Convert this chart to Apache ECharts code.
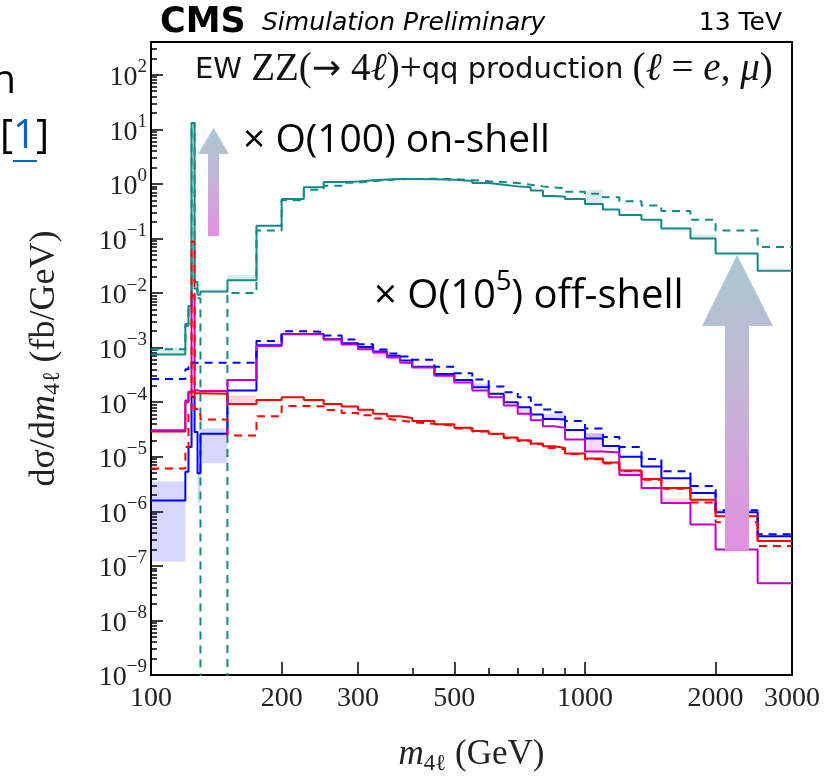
<!DOCTYPE html>
<html>
<head>
<meta charset="utf-8">
<script src="https://cdn.jsdelivr.net/npm/echarts@6/dist/echarts.min.js"></script>
<style>
  html, body { margin: 0; padding: 0; background: #fff; }
  #chart { width: 839px; height: 780px; }
</style>
</head>
<body>
<div id="chart"></div>
<script>
// bin edges of the m4l histograms (GeV)
const edges = [100, 120, 122, 124, 126, 128, 130, 150, 175, 200, 225, 250, 275, 300, 325, 350, 375, 400,
  450, 500, 550, 600, 650, 700, 750, 800, 850, 900, 1000, 1100, 1200, 1350, 1500, 1750, 2000, 2500, 3000];

// dsigma/dm4l per bin (fb/GeV); 1e-12 = empty bin (off scale)
const tealSolid = [7.5e-4, 2.7e-3, 5.8e-3, 13, 0.016, 0.0093, 0.0107, 0.0172, 0.17, 0.53, 0.87, 1.08, 1.11, 1.16,
  1.2, 1.23, 1.23, 1.21, 1.19, 1.135, 1.04, 0.96, 0.9, 0.87, 0.755, 0.6, 0.58, 0.53, 0.43, 0.34, 0.27, 0.22,
  0.152, 0.1, 0.053, 0.0255];
const tealDashed = [9.3e-4, 2.5e-3, 6e-3, 13, 0.012, 0.008, 1e-12, 0.01, 0.14, 0.5, 0.78, 0.92, 1.05, 1.12,
  1.18, 1.22, 1.23, 1.24, 1.22, 1.17, 1.12, 1.08, 1.04, 0.96, 0.9, 0.86, 0.83, 0.72, 0.66, 0.57, 0.48, 0.4,
  0.32, 0.22, 0.14, 0.07];
const blueSolid = [1.58e-6, 5.3e-6, 1.5e-5, 1.26e-4, 2.85e-5, 5.0e-6, 2.65e-5, 1.63e-4, 1.1e-3, 1.78e-3, 1.78e-3,
  1.42e-3, 1.2e-3, 1.02e-3, 8.5e-4, 7.06e-4, 5.8e-4, 4.47e-4, 3.28e-4, 2.55e-4, 1.87e-4, 1.42e-4, 1.0e-4,
  8.1e-5, 5.97e-5, 4.9e-5, 4.8e-5, 3.1e-5, 2.16e-5, 1.58e-5, 1.0e-5, 6.6e-6, 4.04e-6, 2.16e-6, 9.6e-7, 3.5e-7];
const blueDashed = [2.65e-4, 4.0e-4, 4.4e-4, 5.3e-4, 5.3e-4, 5.3e-4, 5.3e-4, 5.3e-4, 1.32e-3, 2.0e-3, 1.95e-3,
  1.67e-3, 1.41e-3, 1.15e-3, 9.2e-4, 7.8e-4, 6.9e-4, 5.98e-4, 4.47e-4, 3.4e-4, 2.6e-4, 1.93e-4, 1.52e-4,
  1.23e-4, 9.0e-5, 7.3e-5, 6.5e-5, 4.5e-5, 3.3e-5, 2.3e-5, 1.5e-5, 9.1e-6, 5.4e-6, 2.9e-6, 1.05e-6, 3.8e-7];
const redSolid = [2.9e-5, 1.0e-4, 1.5e-4, 1.6e-4, 1.45e-4, 1.45e-4, 1.42e-4, 9.3e-5, 1.1e-4, 1.23e-4, 1.1e-4,
  9.3e-5, 8.35e-5, 7.25e-5, 6.1e-5, 5.5e-5, 5.1e-5, 4.5e-5, 3.93e-5, 3.41e-5, 2.97e-5, 2.65e-5, 2.24e-5,
  2.0e-5, 1.75e-5, 1.55e-5, 1.45e-5, 1.15e-5, 9.3e-6, 7.8e-6, 5.6e-6, 3.9e-6, 2.66e-6, 1.63e-6, 8.1e-7, 2.85e-7];
const redDashed = [6.1e-6, 1.5e-5, 7e-5, 0.088, 7.5e-5, 6e-5, 4.8e-5, 2.45e-5, 5.5e-5, 8.5e-5, 8.4e-5, 7.2e-5,
  6.3e-5, 5.75e-5, 5.0e-5, 4.6e-5, 4.3e-5, 4.0e-5, 3.7e-5, 3.3e-5, 2.9e-5, 2.6e-5, 2.2e-5, 1.95e-5, 1.7e-5,
  1.45e-5, 1.35e-5, 1.12e-5, 9.0e-6, 7.5e-6, 5.5e-6, 3.8e-6, 2.6e-6, 1.45e-6, 6.3e-7, 2.3e-7];
const magentaSolid = [3.05e-5, 1.07e-4, 1.55e-4, 0.009, 1.65e-4, 1.6e-4, 1.6e-4, 2.54e-4, 1.07e-3, 1.75e-3,
  1.75e-3, 1.41e-3, 1.14e-3, 9.3e-4, 8.1e-4, 6.6e-4, 5.3e-4, 4.3e-4, 3.05e-4, 2.3e-4, 1.63e-4, 1.23e-4, 8.7e-5,
  6.1e-5, 4.65e-5, 3.6e-5, 3.4e-5, 2.07e-5, 1.25e-5, 1.2e-5, 4.64e-6, 2.66e-6, 1.42e-6, 5.7e-7, 2.0e-7, 4.8e-8];

// uncertainty boxes that show in the picture: [m_lo, m_hi, low, high]
const tealBand = [[100, 120, 7.5e-4, 1.0e-3], [150, 175, 0.0172, 0.0215], [1000, 1100, 0.43, 0.78],
  [1750, 2000, 0.1, 0.118]];
const blueBand = [[100, 120, 1.2e-7, 3.5e-6], [128, 130, 1.4e-6, 5e-6], [130, 150, 7.6e-6, 3.3e-5],
  [550, 600, 1.87e-4, 2.2e-4], [800, 900, 4.9e-5, 6e-5], [1000, 1100, 2.16e-5, 2.7e-5], [2000, 2500, 9.6e-7, 1.1e-6]];
const magentaBand = [[325, 350, 6.6e-4, 8.1e-4], [700, 750, 6.1e-5, 8e-5], [1000, 1100, 1.23e-5, 2.7e-5],
  [1200, 1350, 4.64e-6, 6e-6], [1500, 1750, 1.42e-6, 1.74e-6]];
const redBand = [[150, 175, 9.3e-5, 1.32e-4]];

// axis ticks
const xMajor = [100, 200, 300, 500, 1000, 2000, 3000];
const xMinor = [400, 600, 700, 800, 900];
const yDecades = [-9, -8, -7, -6, -5, -4, -3, -2, -1, 0, 1, 2];
const yMinorFactors = [2, 3, 4, 5, 6, 7, 8, 9];

const X_MIN = 100, X_MAX = 3000, Y_MIN_EXP = -9, Y_MAX_EXP = 2.6;

const SERIF = "'Liberation Serif', 'DejaVu Serif', serif";
const SANS = "'DejaVu Sans', sans-serif";
const SLIDE = "'Open Sans', 'Noto Sans', sans-serif";

const C_TEAL = '#138a85', C_BLUE = '#0000ff', C_RED = '#ff0000', C_MAG = '#bf00c8';

const yMinor = [];
yDecades.forEach(d => yMinorFactors.forEach(f => {
  const v = d + Math.log10(f);
  if (v < Y_MAX_EXP) yMinor.push(v);
}));

function steps(vals) {
  const pts = vals.map((v, i) => [edges[i], v]);
  pts.push([edges[edges.length - 1], vals[vals.length - 1]]);
  return pts;
}

function stepLine(name, vals, color, dashed, z) {
  return {
    name, type: 'line', step: 'end', data: steps(vals),
    xAxisIndex: 0, yAxisIndex: 0, symbol: 'none', z,
    lineStyle: { color, width: 2, type: dashed ? [8, 6] : 'solid' },
    clip: true, silent: true
  };
}

function bandBoxes(boxes, color) {
  return {
    type: 'custom', xAxisIndex: 0, yAxisIndex: 0, z: 1, silent: true, clip: true,
    encode: { x: [0, 1], y: [2, 3] },
    data: boxes,
    renderItem: (params, api) => {
      const p0 = api.coord([api.value(0), api.value(3)]);
      const p1 = api.coord([api.value(1), api.value(2)]);
      return {
        type: 'rect',
        shape: { x: p0[0], y: p0[1], width: p1[0] - p0[0], height: p1[1] - p0[1] },
        style: { fill: color }
      };
    }
  };
}

const tickLine = { color: '#000', width: 1.5 };
const noLine = { show: false, onZero: false };

function arrowGradient() {
  return {
    type: 'linear', x: 0, y: 0, x2: 0, y2: 1,
    colorStops: [{ offset: 0, color: '#a9c9d1' }, { offset: 0.45, color: '#c3b6d6' }, { offset: 1, color: '#e290e0' }]
  };
}

const chart = echarts.init(document.getElementById('chart'));
chart.setOption({
  animation: false,
  backgroundColor: '#fff',
  grid: { left: 151, right: 47, top: 42, bottom: 100, show: true, borderColor: '#000', borderWidth: 2, backgroundColor: 'transparent' },
  xAxis: [
    { type: 'log', logBase: 10, min: X_MIN, max: X_MAX, position: 'bottom', show: false, axisLine: noLine },
    {
      type: 'value', min: Math.log10(X_MIN), max: Math.log10(X_MAX), position: 'bottom',
      axisLine: noLine, splitLine: { show: false },
      axisTick: { show: true, inside: true, length: 13, lineStyle: tickLine, customValues: xMajor.map(Math.log10) },
      axisLabel: {
        show: true, customValues: xMajor.map(Math.log10), margin: 10,
        formatter: v => String(Math.round(Math.pow(10, v))),
        fontFamily: SERIF, fontSize: 28, color: '#222'
      },
      name: '{i|m}{sub|4ℓ}{r| (GeV)}', nameLocation: 'middle', nameGap: 60,
      nameTextStyle: {
        rich: {
          i: { fontFamily: SERIF, fontStyle: 'italic', fontSize: 35, color: '#222', lineHeight: 40, verticalAlign: 'middle' },
          sub: { fontFamily: SERIF, fontSize: 23, color: '#222', lineHeight: 22, verticalAlign: 'bottom' },
          r: { fontFamily: SERIF, fontSize: 35, color: '#222', lineHeight: 40, verticalAlign: 'middle' }
        }
      }
    },
    {
      type: 'value', min: Math.log10(X_MIN), max: Math.log10(X_MAX), position: 'bottom',
      axisLine: noLine, splitLine: { show: false }, axisLabel: { show: false },
      axisTick: { show: true, inside: true, length: 7, lineStyle: tickLine, customValues: xMinor.map(Math.log10) }
    }
  ],
  yAxis: [
    { type: 'log', logBase: 10, min: Math.pow(10, Y_MIN_EXP), max: Math.pow(10, Y_MAX_EXP), position: 'left', show: false, axisLine: noLine },
    {
      type: 'value', min: Y_MIN_EXP, max: Y_MAX_EXP, position: 'left',
      axisLine: noLine, splitLine: { show: false },
      axisTick: { show: true, inside: true, length: 12, lineStyle: tickLine, customValues: yDecades },
      axisLabel: {
        show: true, customValues: yDecades, margin: 4,
        formatter: v => '{b|10}{s|' + (v < 0 ? '\u2212' + (-v) : v) + '}',
        rich: {
          b: { fontFamily: SERIF, fontSize: 28, color: '#222', lineHeight: 34, verticalAlign: 'bottom' },
          s: { fontFamily: SERIF, fontSize: 19, color: '#222', lineHeight: 20, verticalAlign: 'top' }
        }
      },
      name: '{r|dσ/d}{i|m}{sub|4ℓ}{r| (fb/GeV)}', nameLocation: 'middle', nameRotate: 90, nameGap: 86,
      nameTextStyle: {
        rich: {
          r: { fontFamily: SERIF, fontSize: 36, color: '#222', lineHeight: 40, verticalAlign: 'middle' },
          i: { fontFamily: SERIF, fontStyle: 'italic', fontSize: 36, color: '#222', lineHeight: 40, verticalAlign: 'middle' },
          sub: { fontFamily: SERIF, fontSize: 24, color: '#222', lineHeight: 22, verticalAlign: 'bottom' }
        }
      }
    },
    {
      type: 'value', min: Y_MIN_EXP, max: Y_MAX_EXP, position: 'left',
      axisLine: noLine, splitLine: { show: false }, axisLabel: { show: false },
      axisTick: { show: true, inside: true, length: 6, lineStyle: tickLine, customValues: yMinor }
    }
  ],
  series: [
    bandBoxes(tealBand, 'rgba(0,128,128,0.15)'),
    bandBoxes(blueBand, 'rgba(0,0,255,0.16)'),
    bandBoxes(magentaBand, 'rgba(191,0,191,0.15)'),
    bandBoxes(redBand, 'rgba(255,0,0,0.17)'),
    stepLine('teal', tealSolid, C_TEAL, false, 3),
    stepLine('teal dashed', tealDashed, C_TEAL, true, 3),
    stepLine('blue', blueSolid, C_BLUE, false, 4),
    stepLine('red', redSolid, C_RED, false, 4),
    stepLine('magenta', magentaSolid, C_MAG, false, 5),
    stepLine('blue dashed', blueDashed, C_BLUE, true, 6),
    stepLine('red dashed', redDashed, C_RED, true, 6)
  ],
  graphic: { elements: [
    // header
    { type: 'text', x: 160, y: 22.5, z: 100, style: { text: 'CMS', font: "bold 35px 'DejaVu Sans'", fill: '#000', verticalAlign: 'middle' } },
    { type: 'text', x: 262, y: 23.5, z: 100, style: { text: 'Simulation Preliminary', font: "italic 25px 'DejaVu Sans'", fill: '#000', verticalAlign: 'middle' } },
    { type: 'text', x: 782, y: 23.5, z: 100, style: { text: '13 TeV', font: "25px 'DejaVu Sans'", fill: '#000', align: 'right', verticalAlign: 'middle' } },
    // process label inside the frame
    { type: 'text', x: 195, y: 70, z: 100, style: {
      text: '{s|EW }{r|ZZ(}{a|→}{r| 4}{i|ℓ}{r|)+}{s|qq production }{r|(}{i|ℓ}{r| = }{i|e}{r|, }{i|μ}{r|)}',
      verticalAlign: 'middle',
      rich: {
        s: { fontFamily: SANS, fontSize: 29, fill: '#111' },
        a: { fontFamily: SANS, fontSize: 35, fill: '#111' },
        r: { fontFamily: SERIF, fontSize: 39, fill: '#111' },
        i: { fontFamily: SERIF, fontStyle: 'italic', fontSize: 39, fill: '#111' }
      }
    } },
    // slide annotations
    { type: 'text', x: 243, y: 140.5, z: 100, style: { text: '× O(100) on-shell', font: "39px " + SLIDE, fill: '#000', verticalAlign: 'middle' } },
    { type: 'text', x: 374, y: 293, z: 100, style: {
      text: '{a|× O(10}{p|5}{a|) off-shell}', verticalAlign: 'middle',
      rich: {
        a: { fontFamily: SLIDE, fontSize: 40, fill: '#000', lineHeight: 48, verticalAlign: 'bottom' },
        p: { fontFamily: SLIDE, fontSize: 27, fill: '#000', lineHeight: 32, verticalAlign: 'top' }
      }
    } },
    { type: 'polygon', z: 100, shape: { points: [[213.5, 128], [229, 154], [219, 154], [219, 236], [208, 236], [208, 154], [198, 154]] },
      style: { fill: arrowGradient() } },
    { type: 'polygon', z: 100, shape: { points: [[737, 255], [773, 326], [749, 326], [749, 550], [725, 550], [725, 326], [702, 326]] },
      style: { fill: arrowGradient() } },
    // cut-off slide text at the left edge
    { type: 'text', x: 16, y: 81.5, z: 100, style: { text: 'n', font: "40px " + SLIDE, fill: '#000', align: 'right', verticalAlign: 'middle' } },
    { type: 'text', x: 0, y: 136.5, z: 100, style: {
      text: '{k|[}{b|1}{k|]}', verticalAlign: 'middle',
      rich: { k: { fontFamily: SLIDE, fontSize: 40, fill: '#000' }, b: { fontFamily: SLIDE, fontSize: 40, fill: '#0563c1' } }
    } },
    { type: 'line', z: 100, shape: { x1: 13, y1: 161, x2: 37, y2: 161 }, style: { stroke: '#0563c1', lineWidth: 2 } }
  ] }
});
</script>
</body>
</html>
